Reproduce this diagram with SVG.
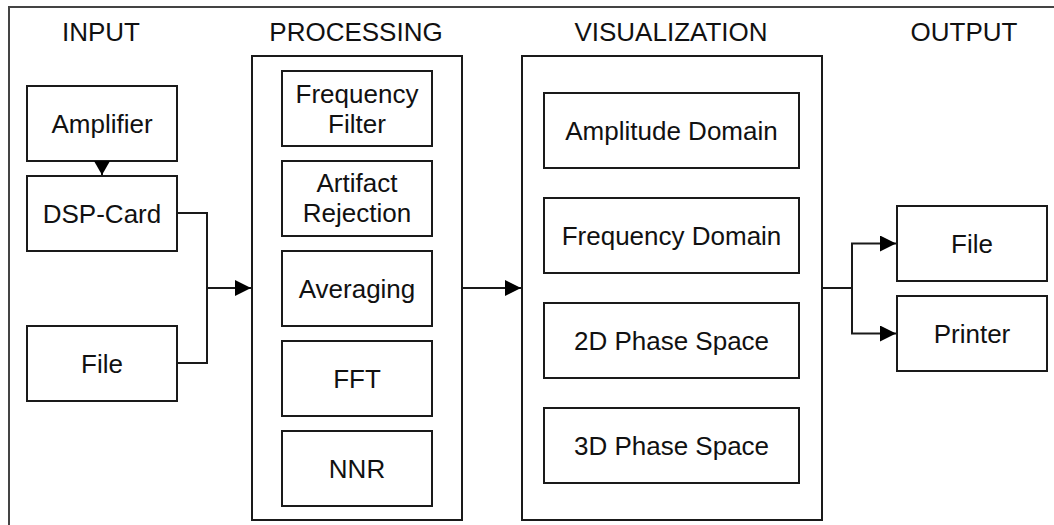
<svg xmlns="http://www.w3.org/2000/svg" width="1054" height="525" viewBox="0 0 1054 525">
  <style>
    .box { fill: #ffffff; stroke: #1a1a1a; stroke-width: 2; }
    .frame { fill: none; stroke: #444444; stroke-width: 2; }
    .conn { fill: none; stroke: #1a1a1a; stroke-width: 2; }
    text { font-family: "Liberation Sans", Arial, Helvetica, sans-serif; font-size: 26px; fill: #111111; text-anchor: middle; }
  </style>
  <defs>
    <marker id="arrow" viewBox="0 0 16 16" refX="16" refY="8" markerWidth="16" markerHeight="16" markerUnits="userSpaceOnUse" orient="auto">
      <path d="M0,0 L16,8 L0,16 Z" fill="#000000"/>
    </marker>
    <marker id="arrowSmall" viewBox="0 0 14 16" refX="14" refY="8" markerWidth="14" markerHeight="16" markerUnits="userSpaceOnUse" orient="auto">
      <path d="M0,0 L14,8 L0,16 Z" fill="#000000"/>
    </marker>
  </defs>
  <rect width="1054" height="525" fill="#ffffff"/>
  <rect class="frame" x="9" y="7" width="1100" height="600"/>

  <g id="titles">
    <text x="101" y="41">INPUT</text>
    <text x="356" y="41">PROCESSING</text>
    <text x="671" y="41">VISUALIZATION</text>
    <text x="964" y="41">OUTPUT</text>
  </g>

  <g id="processing">
    <rect class="box" x="252" y="56" width="210" height="464"/>
  </g>
  <g id="visualization">
    <rect class="box" x="522" y="56" width="300" height="464"/>
  </g>

  <g id="amplifier">
    <rect class="box" x="27" y="86" width="150" height="75"/>
    <text x="102" y="132.5">Amplifier</text>
  </g>
  <g id="dsp-card">
    <rect class="box" x="27" y="176" width="150" height="75"/>
    <text x="102" y="222.5">DSP-Card</text>
  </g>
  <g id="input-file">
    <rect class="box" x="27" y="326" width="150" height="75"/>
    <text x="102" y="372.5">File</text>
  </g>

  <g id="frequency-filter">
    <rect class="box" x="282" y="71" width="150" height="75"/>
    <text x="357" y="102.5">Frequency</text>
    <text x="357" y="132.5">Filter</text>
  </g>
  <g id="artifact-rejection">
    <rect class="box" x="282" y="161" width="150" height="75"/>
    <text x="357" y="192">Artifact</text>
    <text x="357" y="222">Rejection</text>
  </g>
  <g id="averaging">
    <rect class="box" x="282" y="251" width="150" height="75"/>
    <text x="357" y="297.5">Averaging</text>
  </g>
  <g id="fft">
    <rect class="box" x="282" y="341" width="150" height="75"/>
    <text x="357" y="387.5">FFT</text>
  </g>
  <g id="nnr">
    <rect class="box" x="282" y="431" width="150" height="75"/>
    <text x="357" y="477.5">NNR</text>
  </g>

  <g id="amplitude-domain">
    <rect class="box" x="544" y="93" width="255" height="75"/>
    <text x="671.5" y="139.5">Amplitude Domain</text>
  </g>
  <g id="frequency-domain">
    <rect class="box" x="544" y="198" width="255" height="75"/>
    <text x="671.5" y="244.5">Frequency Domain</text>
  </g>
  <g id="phase-2d">
    <rect class="box" x="544" y="303" width="255" height="75"/>
    <text x="671.5" y="349.5">2D Phase Space</text>
  </g>
  <g id="phase-3d">
    <rect class="box" x="544" y="408" width="255" height="75"/>
    <text x="671.5" y="454.5">3D Phase Space</text>
  </g>

  <g id="output-file">
    <rect class="box" x="897" y="206" width="150" height="75"/>
    <text x="972" y="252.5">File</text>
  </g>
  <g id="printer">
    <rect class="box" x="897" y="296" width="150" height="75"/>
    <text x="972" y="342.5">Printer</text>
  </g>

  <g id="connectors">
    <path class="conn" d="M102,161 V175" marker-end="url(#arrowSmall)"/>
    <path class="conn" d="M177,213 H207 V288 H251" marker-end="url(#arrow)"/>
    <path class="conn" d="M177,363 H207 V288"/>
    <path class="conn" d="M462,288 H521" marker-end="url(#arrow)"/>
    <path class="conn" d="M822,288 H852 V243.5 H896" marker-end="url(#arrow)"/>
    <path class="conn" d="M852,288 V333.5 H896" marker-end="url(#arrow)"/>
  </g>
</svg>
